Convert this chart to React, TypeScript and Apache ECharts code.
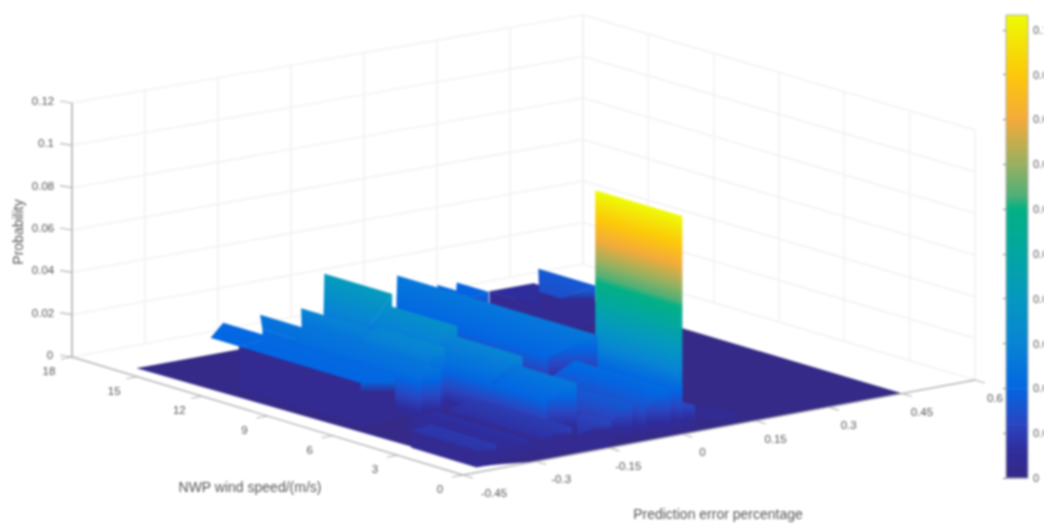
import React, { useEffect, useRef } from "react";
import * as echarts from "echarts";

// ---- chart values ----
const probTicks = [0, 0.02, 0.04, 0.06, 0.08, 0.1, 0.12];
const speedTicks = [0, 3, 6, 9, 12, 15, 18];
const errTicks = [-0.45, -0.3, -0.15, 0, 0.15, 0.3, 0.45, 0.6];
const colorbarTicks = [0, 0.01, 0.02, 0.03, 0.04, 0.05, 0.06, 0.07, 0.08, 0.09, 0.1];
const colorbarMax = 0.1033;
const colorZ = [0, 0.006, 0.012, 0.02, 0.03, 0.04, 0.05, 0.06, 0.063, 0.07, 0.08, 0.09, 0.1033];
const colorHex = ["#352a87", "#2f2c9c", "#2a45c0", "#0366e2", "#0884d4", "#0598c0", "#03a6a2", "#04b084", "#4fb077", "#98b060", "#f3ab3a", "#fdc80a", "#eefb05"];

// outline of the ground sheet (error percentage, wind speed)
const floorErr = [-0.414, 0.45, 0.45, -0.3, -0.36, -0.39];
const floorSpeed = [15.8, 15.8, 0, 0, 0.4, 0.55];

// ridges on the sheet: error from/to, speed from, speed to at each error end, probability at each error end
const ridgeErrFrom = [0.31, 0.3, 0.12, 0.09, -0.02, 0, 0.005, 0.08, -0.07, -0.13, -0.21, -0.21, -0.21, -0.21, -0.2, -0.25, -0.25, -0.26, -0.295, -0.34, -0.37, -0.37, -0.4];
const ridgeErrTo = [0.4, 0.37, 0.18, 0.145, 0.08, 0.004, 0.03, 0.12, -0.02, -0.09, -0.15, -0.15, -0.15, -0.15, -0.14, -0.22, -0.22, -0.2, -0.255, -0.28, -0.3, -0.3, -0.36];
const ridgeSpeedFrom = [12, 12.3, 12.95, 12.9, 5.7, 0.1, 0.1, 0.1, 0.1, 0.3, 10, 7, 4, 1.5, 0.2, 9, 6, 0.6, 5.4, 0.8, 12.1, 6.5, 0.5];
const ridgeSpeedToNear = [15.8, 13.3, 13.1, 13.3, 12.7, 4, 2, 1.5, 4.5, 4.5, 11.8, 10, 7, 4, 1.4, 11.9, 9, 5, 12.7, 5, 13.4, 12.1, 3.5];
const ridgeSpeedToFar = [15.8, 14.9, 14.4, 14.5, 14.9, 4, 2, 1.5, 4.5, 4.5, 13.1, 10, 7, 4, 1.4, 12.6, 9, 5, 13.7, 5, 14.4, 12.1, 3.5];
const ridgeProbFrom = [0.006, 0.014, 0.018, 0.018, 0.02, 0.103, 0.014, 0.003, 0.016, 0.012, 0.024, 0.024, 0.022, 0.02, 0.008, 0.024, 0.028, 0.007, 0.023, 0.005, 0.02, 0.02, 0.008];
const ridgeProbTo = [0.006, 0.017, 0.02, 0.02, 0.026, 0.103, 0.012, 0.004, 0.022, 0.017, 0.042, 0.036, 0.031, 0.026, 0.012, 0.03, 0.032, 0.01, 0.025, 0.007, 0.021, 0.021, 0.009];
// side facing the viewer: 0 dark, 1 shaded by height, 2 open
const ridgeFace = [0, 0, 1, 1, 1, 1, 1, 1, 1, 1, 1, 1, 1, 1, 0, 1, 1, 0, 1, 0, 2, 0, 0];

// ---- view of the 3-D box, in page pixels ----
const FRONT = [463, 475];
const RIGHT = [975, 380];
const LEFT = [72, 357];
const BACK = [583, 264];
const HEIGHTS = { front: 255, right: 250, left: 254, back: 249 };
const ISO = (() => {
  const l = Math.hypot(65.2, 19.7);
  return [-65.2 / l, -19.7 / l];
})();
const SIDE_COLOR = "#332b92";
const TEXT = "#555";
const FONT = "'Liberation Sans', Arial, sans-serif";

function project(e: number, s: number, z: number) {
  const u = (e + 0.45) / 1.05;
  const v = s / 18;
  const mix = (a: number, b: number, c: number, d: number) =>
    a * (1 - u) * (1 - v) + b * u * (1 - v) + c * (1 - u) * v + d * u * v;
  const x = mix(FRONT[0], RIGHT[0], LEFT[0], BACK[0]);
  const y = mix(FRONT[1], RIGHT[1], LEFT[1], BACK[1]);
  const h = mix(HEIGHTS.front, HEIGHTS.right, HEIGHTS.left, HEIGHTS.back);
  return [x, y - (z / 0.12) * h];
}

function hexToRgb(h: string) {
  return [parseInt(h.slice(1, 3), 16), parseInt(h.slice(3, 5), 16), parseInt(h.slice(5, 7), 16)];
}
function colorAt(z: number) {
  const zz = Math.max(0, Math.min(colorbarMax, z));
  for (let i = 1; i < colorZ.length; i++) {
    if (zz <= colorZ[i]) {
      const t = (zz - colorZ[i - 1]) / (colorZ[i] - colorZ[i - 1]);
      const a = hexToRgb(colorHex[i - 1]);
      const b = hexToRgb(colorHex[i]);
      return `rgb(${a.map((c, k) => Math.round(c + (b[k] - c) * t)).join(",")})`;
    }
  }
  return colorHex[colorHex.length - 1];
}
function stopsBetween(lo: number, hi: number) {
  const stops = [{ offset: 0, color: colorAt(lo) }];
  colorZ.forEach((z) => {
    if (z > lo && z < hi) stops.push({ offset: (z - lo) / (hi - lo), color: colorAt(z) });
  });
  stops.push({ offset: 1, color: colorAt(hi) });
  return stops;
}
function ramp(p0: number[], p1: number[], z0: number, z1: number) {
  if (Math.abs(z0 - z1) < 1e-6) return colorAt(z0);
  const [a, b, lo, hi] = z0 < z1 ? [p0, p1, z0, z1] : [p1, p0, z1, z0];
  const vx = b[0] - a[0];
  const vy = b[1] - a[1];
  const t = vx * ISO[0] + vy * ISO[1];
  const px = vx - t * ISO[0];
  const py = vy - t * ISO[1];
  return new echarts.graphic.LinearGradient(a[0], a[1], a[0] + px, a[1] + py, stopsBetween(lo, hi), true);
}
function poly(points: number[][], fill: any) {
  return {
    type: "polygon",
    shape: { points },
    style: { fill, stroke: fill, lineWidth: 0.4 },
  };
}

const ridgeRows = ridgeErrFrom
  .map((e, i) => [e, ridgeErrTo[i], ridgeSpeedFrom[i], ridgeSpeedToNear[i], ridgeSpeedToFar[i], ridgeProbFrom[i], ridgeProbTo[i], ridgeFace[i]])
  .sort((a, b) => b[0] - a[0] || b[2] - a[2]);

function renderRidge(_: any, api: any) {
  const e0 = api.value(0);
  const e1 = api.value(1);
  const s0 = api.value(2);
  const sNear = api.value(3);
  const sFar = api.value(4);
  const z0 = api.value(5);
  const z1 = api.value(6);
  const face = api.value(7);
  const P = (e: number, s: number, z: number) => api.coord(project(e, s, z));
  const mid = (s0 + sNear) / 2;
  const children: any[] = [];
  if (face !== 2) {
    const nearFill = face === 1 ? ramp(P(e0, mid, 0), P(e0, mid, z0), 0, z0) : SIDE_COLOR;
    children.push(poly([P(e0, s0, 0), P(e0, sNear, 0), P(e0, sNear, z0), P(e0, s0, z0)], nearFill));
    const zEnd = Math.max(z0, z1);
    const endFill =
      face === 1
        ? new echarts.graphic.LinearGradient(0, P(e1, s0, 0)[1], 0, P(e1, s0, zEnd)[1], stopsBetween(0, zEnd), true)
        : new echarts.graphic.LinearGradient(
            0,
            P(e1, s0, 0)[1],
            0,
            P(e1, s0, zEnd)[1],
            [
              { offset: 0, color: SIDE_COLOR },
              { offset: 0.6, color: SIDE_COLOR },
              { offset: 0.85, color: colorAt(zEnd) },
              { offset: 1, color: colorAt(zEnd) },
            ],
            true
          );
    children.push(poly([P(e0, s0, 0), P(e1, s0, 0), P(e1, s0, z1), P(e0, s0, z0)], endFill));
  }
  children.push(
    poly(
      [P(e0, s0, z0), P(e1, s0, z1), P(e1, sFar, z1), P(e0, sNear, z0)],
      ramp(P(e0, mid, z0), P(e1, mid, z1), z0, z1)
    )
  );
  return { type: "group", children };
}

function renderFloor(params: any, api: any) {
  if (params.dataIndex !== 0) return null;
  const points = floorErr.map((e, i) => api.coord(project(e, floorSpeed[i], 0)));
  return poly(points, colorAt(0));
}

function renderColorbar(_: any, api: any) {
  const lo = api.value(0);
  const hi = api.value(1);
  const a = api.coord([0, lo]);
  const b = api.coord([1, hi]);
  return {
    type: "rect",
    shape: { x: a[0], y: b[1], width: b[0] - a[0], height: a[1] - b[1] + 0.5 },
    style: {
      fill: new echarts.graphic.LinearGradient(0, a[1], 0, b[1], stopsBetween(lo, hi), true),
    },
  };
}

function line(a: number[], b: number[], stroke: string, lineWidth: number, z = 0) {
  return {
    type: "line",
    silent: true,
    z,
    shape: { x1: a[0], y1: a[1], x2: b[0], y2: b[1] },
    style: { stroke, lineWidth },
  };
}
function label(text: string, x: number, y: number, size = 11.5, rotation = 0) {
  return {
    type: "text",
    silent: true,
    z: 5,
    x,
    y,
    rotation,
    style: {
      text,
      x: 0,
      y: 0,
      fill: TEXT,
      font: `${size}px ${FONT}`,
      textAlign: "center",
      textVerticalAlign: "middle",
    },
  };
}

function buildGraphics() {
  const out: any[] = [];
  const gridColor = "#f2f2f2";
  // back walls
  probTicks.forEach((z) => {
    out.push(line(project(-0.45, 18, z), project(0.6, 18, z), gridColor, 1.6));
    out.push(line(project(0.6, 18, z), project(0.6, 0, z), gridColor, 1.6));
  });
  errTicks.forEach((e) => out.push(line(project(e, 18, 0), project(e, 18, 0.12), gridColor, 1.6)));
  speedTicks.forEach((s) => out.push(line(project(0.6, s, 0), project(0.6, s, 0.12), gridColor, 1.6)));
  // axis lines
  const axisColor = "#b4b4b4";
  out.push(line(project(-0.45, 18, 0), project(-0.45, 18, 0.12), axisColor, 1.6, 4));
  out.push(line(project(-0.45, 18, 0), project(-0.45, 0, 0), axisColor, 1.4, 4));
  out.push(line(project(-0.45, 0, 0), project(0.6, 0, 0), axisColor, 1.4, 4));
  // ticks and labels
  probTicks.forEach((z) => {
    const p = project(-0.45, 18, z);
    out.push(line(p, [p[0] - 12, p[1] - 2], axisColor, 1.1, 4));
    out.push(label(String(z), p[0] - 29 + (String(z).length < 4 ? 3 : 0) + (z === 0 ? 4 : 0), p[1] - 2));
  });
  speedTicks.forEach((s) => {
    const p = project(-0.45, s, 0);
    out.push(line(p, [p[0] - 11, p[1] + 2], axisColor, 1.1, 4));
    out.push(label(String(s), p[0] - 23, p[1] + 14));
  });
  errTicks.forEach((e) => {
    const p = project(e, 0, 0);
    out.push(line(p, [p[0] + 10, p[1] + 3], axisColor, 1.1, 4));
    const dx = e < 0 ? 34 + (e + 0.45) * -40 - 3 : 20;
    out.push(label(String(e), p[0] + dx, p[1] + 18));
  });
  out.push(label("Probability", 18, 232, 14, Math.PI / 2));
  out.push(label("NWP wind speed/(m/s)", 250, 487, 14));
  out.push(label("Prediction error percentage", 718, 514, 14));
  out.push({
    type: "rect",
    silent: true,
    z: 6,
    shape: { x: 1006, y: 15, width: 22, height: 463 },
    style: { fill: "none", stroke: "#b0b0b0", lineWidth: 1 },
  });
  return out;
}

const colorbarRows = colorZ.slice(1).map((z, i) => [colorZ[i], z]);

export default function App() {
  const ref = useRef<HTMLDivElement>(null);
  useEffect(() => {
    if (!ref.current) return;
    const chart = echarts.init(ref.current, null, { renderer: "svg" });
    chart.setOption({
      animation: false,
      backgroundColor: "#fff",
      graphic: { elements: buildGraphics() },
      grid: [
        { left: 0, top: 0, width: 1044, height: 525, outerBoundsMode: "none" },
        { left: 1006, top: 15, width: 22, height: 463, outerBoundsMode: "none" },
      ],
      xAxis: [
        { type: "value", min: 0, max: 1044, show: false, gridIndex: 0 },
        { type: "value", min: 0, max: 1, show: false, gridIndex: 1 },
      ],
      yAxis: [
        { type: "value", min: 0, max: 525, inverse: true, show: false, gridIndex: 0 },
        {
          type: "value",
          gridIndex: 1,
          position: "right",
          min: 0,
          max: colorbarMax,
          splitLine: { show: false },
          axisLine: { show: false },
          axisTick: { show: true, inside: true, length: 3, lineStyle: { color: "#777" }, customValues: colorbarTicks },
          axisLabel: {
            color: TEXT,
            fontSize: 11,
            fontFamily: FONT,
            margin: 5,
            customValues: colorbarTicks,
            formatter: (v: number) => String(+v.toFixed(2)),
          },
        },
      ],
      series: [
        {
          type: "custom",
          name: "floor",
          xAxisIndex: 0,
          yAxisIndex: 0,
          z: 2,
          silent: true,
          clip: false,
          data: [[0, 0]],
          renderItem: renderFloor,
        },
        {
          type: "custom",
          name: "Probability",
          xAxisIndex: 0,
          yAxisIndex: 0,
          z: 3,
          silent: true,
          clip: false,
          data: ridgeRows,
          encode: { x: 0, y: 5 },
          renderItem: renderRidge,
        },
        {
          type: "custom",
          name: "colorbar",
          xAxisIndex: 1,
          yAxisIndex: 1,
          silent: true,
          clip: false,
          data: colorbarRows,
          encode: { x: 0, y: 1 },
          renderItem: renderColorbar,
        },
      ],
    });
    return () => chart.dispose();
  }, []);
  return (
    <div
      ref={ref}
      style={{ position: "fixed", left: 0, top: 0, width: 1044, height: 525, filter: "blur(0.8px)" }}
    />
  );
}
